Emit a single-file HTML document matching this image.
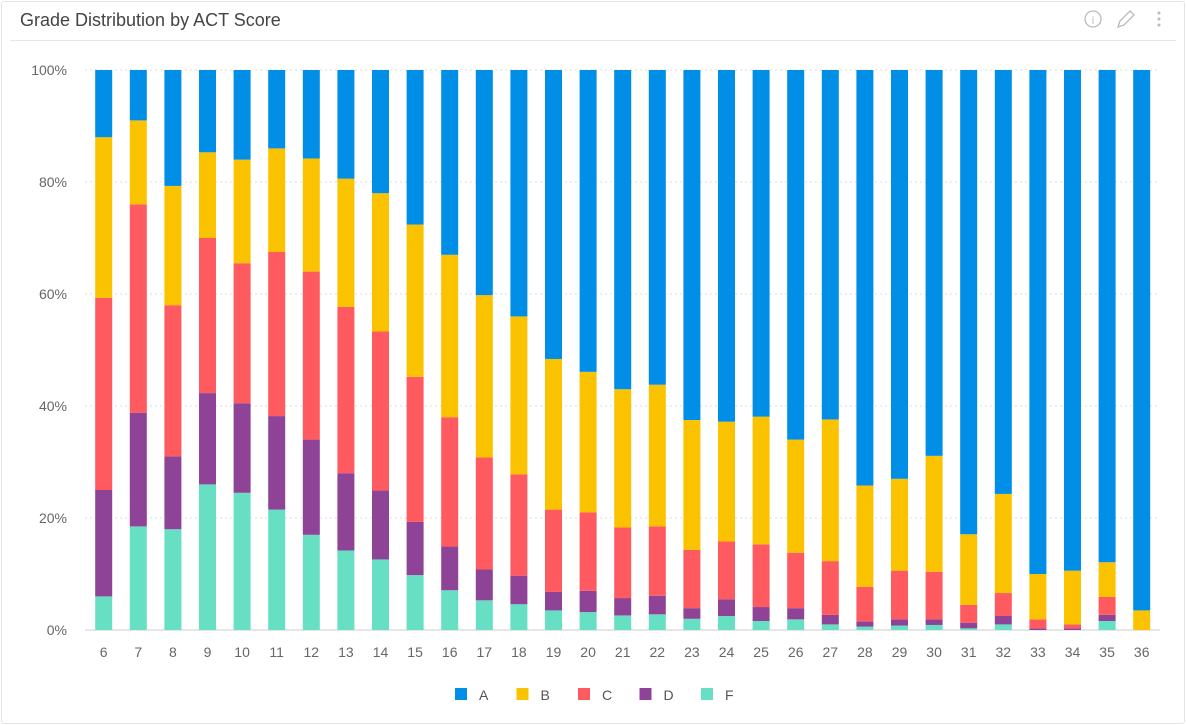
<!DOCTYPE html>
<html><head><meta charset="utf-8"><style>
body{margin:0;background:#fff;font-family:"Liberation Sans",sans-serif;}
#card{position:absolute;left:1px;top:1px;width:1182px;height:721px;border:1px solid #e4e4e4;border-radius:3px;}
#title{position:absolute;left:18px;top:8px;font-size:18px;color:#444;}
#hdr{position:absolute;left:8px;right:8px;top:38px;border-top:1px solid #e6e6e6;}
svg text{font-family:"Liberation Sans",sans-serif;}
</style></head><body>
<div id="card">
<div id="title">Grade Distribution by ACT Score</div>
<div id="hdr"></div>
</div>
<svg id="s" width="1186" height="725" style="position:absolute;left:0;top:0">
<g><circle cx="1093" cy="19" r="8" fill="none" stroke="#bbb" stroke-width="1.3"/><text x="1093" y="24" font-size="11" fill="#bbb" text-anchor="middle">i</text></g>
<g><path d="M1118 27 L1120 21 L1130 11 L1134 15 L1124 25 Z" fill="none" stroke="#bbb" stroke-width="1.3"/></g>
<g fill="#bbb"><circle cx="1159" cy="13" r="1.5"/><circle cx="1159" cy="19" r="1.5"/><circle cx="1159" cy="25" r="1.5"/></g>
</svg>
<script>
const categories=[6,7,8,9,10,11,12,13,14,15,16,17,18,19,20,21,22,23,24,25,26,27,28,29,30,31,32,33,34,35,36];
const seriesF=[6,18.5,18,26,24.5,21.5,17,14.2,12.6,9.8,7.1,5.3,4.6,3.5,3.2,2.6,2.8,2,2.5,1.6,1.9,1,0.6,0.8,0.9,0.3,1,0,0,1.6,0];
const seriesD=[19,20.3,13,16.3,16,16.7,17,13.8,12.3,9.5,7.8,5.5,5.1,3.3,3.8,3.1,3.3,1.9,3,2.5,2,1.7,0.9,1.1,1,1,1.5,0.3,0.3,1.1,0];
const seriesC=[34.3,37.2,27,27.7,25,29.3,30,29.7,28.4,25.9,23.1,20,18.1,14.7,14,12.6,12.4,10.4,10.3,11.2,9.9,9.6,6.2,8.7,8.5,3.2,4.1,1.6,0.7,3.2,0];
const seriesB=[28.7,15,21.3,15.3,18.5,18.5,20.2,22.9,24.7,27.2,29,29,28.2,26.9,25.1,24.7,25.3,23.2,21.4,22.8,20.2,25.3,18.1,16.4,20.7,12.6,17.7,8.1,9.6,6.2,3.5];
const seriesA=[12,9,20.7,14.7,16,14,15.8,19.4,22,27.6,33,40.2,44,51.6,53.9,57,56.2,62.5,62.8,61.9,66,62.4,74.2,73,68.9,82.9,75.7,90,89.4,87.9,96.5];
const yTicks=[0,20,40,60,80,100];
const series=[["F",seriesF,"#66dfc3"],["D",seriesD,"#8e4396"],["C",seriesC,"#ff5a5f"],["B",seriesB,"#fbc200"],["A",seriesA,"#008ee7"]];
const legendOrder=["A","B","C","D","F"];
const NS="http://www.w3.org/2000/svg",svg=document.getElementById('s');
function el(t,a){const e=document.createElementNS(NS,t);for(const k in a)e.setAttribute(k,a[k]);svg.appendChild(e);return e;}
const y=v=>630-v*5.6, x=i=>103.7+i*34.6;
yTicks.forEach(t=>{
 const l=el('line',{x1:85,x2:1160,y1:y(t),y2:y(t),stroke:t?'#ddd':'#ccc','stroke-dasharray':t?'2,3':'0'});
 
 
 const tx=el('text',{x:67,y:y(t)+5,'font-size':14,fill:'#666','text-anchor':'end'});tx.textContent=t+'%';
 
 
});
categories.forEach((c,i)=>{
 let cum=0;
 series.forEach(([n,arr,col])=>{
  const v=arr[i];
  const r=el('rect',{x:x(i)-8.5,y:y(cum+v),width:17,height:Math.max(0,v*5.6),fill:col});
  
  
  cum+=v;
 });
 const tx=el('text',{x:x(i),y:657,'font-size':14,fill:'#666','text-anchor':'middle'});tx.textContent=c;
 
 
});
legendOrder.forEach((n,k)=>{
 const col=series.find(s=>s[0]==n)[2];const lx=455+k*61.5;
 const g=el('g',{});
 
 
 const r=document.createElementNS(NS,'rect');r.setAttribute('x',lx);r.setAttribute('y',688);r.setAttribute('width',12);r.setAttribute('height',12);r.setAttribute('fill',col);g.appendChild(r);
 const t=document.createElementNS(NS,'text');t.setAttribute('x',lx+24);t.setAttribute('y',700);t.setAttribute('font-size',14);t.setAttribute('fill','#555');t.textContent=n;g.appendChild(t);
});
</script>
</body></html>
